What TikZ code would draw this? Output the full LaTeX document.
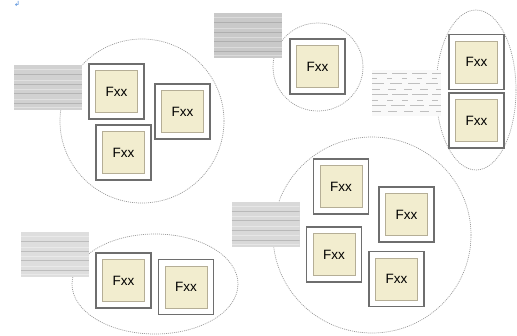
\documentclass[tikz,border=0pt]{standalone}
\usepackage{fontspec}
\setmainfont{Liberation Sans}
\newfontfamily\symfont{DejaVu Sans}
\usetikzlibrary{calc}

\definecolor{framegray}{HTML}{6E6E6E}
\definecolor{corebeige}{HTML}{F2EDCF}
\definecolor{coreline}{HTML}{B5AE96}
\definecolor{markblue}{HTML}{3C7FD6}

\tikzset{
    frame/.style={
        rectangle,
        draw=framegray,
        fill=white,
        line width=1.4pt,
        minimum size=55pt,
        inner sep=0pt
    },
    core/.style={
        rectangle,
        draw=coreline,
        fill=corebeige,
        line width=0.8pt,
        minimum size=42pt,
        inner sep=0pt,
        font=\fontsize{13.5}{14}\selectfont
    },
    group/.style={
        draw=gray!80,
        line width=0.7pt,
        dash pattern=on 1pt off 1pt
    },
    wood/.style={
        rectangle,
        fill=gray!36,
        minimum width=68pt,
        minimum height=45pt,
        inner sep=0pt,
        path picture={
            \foreach \f/\c/\w in {0.06/white/0.6,0.15/gray/0.4,0.24/white/0.9,0.37/gray/0.5,
                                  0.46/white/0.5,0.58/gray/0.3,0.66/white/0.8,0.79/gray/0.5,
                                  0.9/white/0.6}
                \draw[\c, line width=\w pt, opacity=0.35]
                    ($(path picture bounding box.south west)!\f!(path picture bounding box.north west)$) --
                    ($(path picture bounding box.south east)!\f!(path picture bounding box.north east)$);
        }
    },
    streaks/.style={
        rectangle,
        fill=gray!5,
        minimum width=69pt,
        minimum height=46pt,
        inner sep=0pt,
        path picture={
            \foreach \f/\d/\o in {0.1/9/7,0.22/14/5,0.34/6/9,0.46/16/4,0.58/8/8,0.7/12/6,0.82/5/10,0.92/15/5}
                \draw[gray!50, line width=0.9pt, dash pattern=on \d pt off \o pt]
                    ($(path picture bounding box.south west)!\f!(path picture bounding box.north west)$) --
                    ($(path picture bounding box.south east)!\f!(path picture bounding box.north east)$);
        }
    }
}

\begin{document}
\begin{tikzpicture}[x=1pt, y=-1pt]

    \useasboundingbox (0,0) rectangle (517,335);

    % Marca
    \node[text=markblue, font=\symfont\fontsize{7}{7}\selectfont, inner sep=0pt] (mk) at (17,4) {↲};

    % Grupos
    \draw[group] (142,121) circle [radius=82];
    \draw[group] (318,67)  ellipse [x radius=45, y radius=44];
    \draw[group] (476,90)  ellipse [x radius=40, y radius=80];
    \draw[group] (155,284) ellipse [x radius=83, y radius=50];
    \draw[group] (372,235) ellipse [x radius=99, y radius=98];

    % Texturas
    \node[wood]    (t1) at (48,87.5)    {};
    \node[wood, fill=gray!42] (t2) at (248,35.5) {};
    \node[streaks] (t3) at (406.5,93)   {};
    \node[wood, fill=gray!26] (t4) at (55,254.5) {};
    \node[wood, fill=gray!30] (t5) at (265.5,224) {};

    % Cajas
    \node[frame] (f1)  at (116.5,91.5)  {};
    \node[core]  (c1)  at (f1)  {Fxx};
    \node[frame] (f2)  at (182.5,111.5) {};
    \node[core]  (c2)  at (f2)  {Fxx};
    \node[frame] (f3)  at (123.5,152.5) {};
    \node[core]  (c3)  at (f3)  {Fxx};
    \node[frame] (f4)  at (317.5,66.5)  {};
    \node[core]  (c4)  at (f4)  {Fxx};
    \node[frame] (f5)  at (476.5,62)    {};
    \node[core]  (c5)  at (f5)  {Fxx};
    \node[frame] (f6)  at (476.5,120.5) {};
    \node[core]  (c6)  at (f6)  {Fxx};
    \node[frame] (f7)  at (123.5,280.5) {};
    \node[core]  (c7)  at (f7)  {Fxx};
    \node[frame] (f8)  at (186,287)     {};
    \node[core]  (c8)  at (f8)  {Fxx};
    \node[frame] (f9)  at (341,186.5)   {};
    \node[core]  (c9)  at (f9)  {Fxx};
    \node[frame] (f10) at (406.5,214.5) {};
    \node[core]  (c10) at (f10) {Fxx};
    \node[frame] (f11) at (334,254.5)   {};
    \node[core]  (c11) at (f11) {Fxx};
    \node[frame] (f12) at (396.5,279)   {};
    \node[core]  (c12) at (f12) {Fxx};

\end{tikzpicture}
\end{document}
